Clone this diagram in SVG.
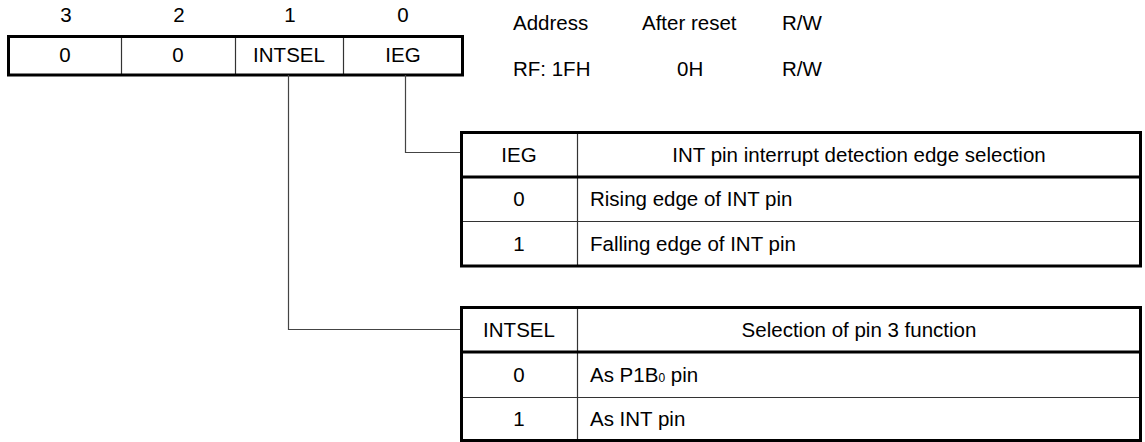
<svg xmlns="http://www.w3.org/2000/svg" width="1145" height="442" viewBox="0 0 1145 442">
<style>
text{font-family:"Liberation Sans",Arial,sans-serif;font-size:20.5px;fill:#000}
.c{text-anchor:middle}
.thick{fill:none;stroke:#000;stroke-width:3}
.thin{fill:none;stroke:#333;stroke-width:1.2}
.conn{fill:none;stroke:#444;stroke-width:1.2}
</style>
<rect width="1145" height="442" fill="#fff"/>
<g id="bitnumbers">
<text class="c" x="66" y="22">3</text>
<text class="c" x="179" y="22">2</text>
<text class="c" x="290" y="22">1</text>
<text class="c" x="403" y="22">0</text>
</g>
<g id="register">
<line class="thin" x1="121.5" y1="36" x2="121.5" y2="75"/>
<line class="thin" x1="235.5" y1="36" x2="235.5" y2="75"/>
<line class="thin" x1="343.5" y1="36" x2="343.5" y2="75"/>
<rect class="thick" x="8.5" y="36.5" width="454" height="38.5"/>
<text class="c" x="65" y="62">0</text>
<text class="c" x="178" y="62">0</text>
<text class="c" x="289" y="62">INTSEL</text>
<text class="c" x="403" y="62">IEG</text>
</g>
<g id="info">
<text x="513" y="30">Address</text>
<text x="642" y="30">After reset</text>
<text x="782" y="30">R/W</text>
<text x="513" y="76">RF: 1FH</text>
<text x="677" y="76">0H</text>
<text x="782" y="76">R/W</text>
</g>
<g id="connectors">
<polyline class="conn" points="405.5,75 405.5,152.5 461,152.5"/>
<polyline class="conn" points="288.5,75 288.5,329.5 461,329.5"/>
</g>
<g id="table-ieg">
<line class="thin" x1="577.5" y1="132" x2="577.5" y2="266"/>
<line class="thin" x1="461" y1="221.5" x2="1141" y2="221.5"/>
<line class="thick" x1="461" y1="177" x2="1141" y2="177"/>
<rect class="thick" x="461.5" y="132.5" width="679" height="133.5"/>
<text class="c" x="519" y="162">IEG</text>
<text class="c" x="859" y="162">INT pin interrupt detection edge selection</text>
<text class="c" x="519" y="206">0</text>
<text x="590" y="206">Rising edge of INT pin</text>
<text class="c" x="519" y="251">1</text>
<text x="590" y="251">Falling edge of INT pin</text>
</g>
<g id="table-intsel">
<line class="thin" x1="577.5" y1="307" x2="577.5" y2="441"/>
<line class="thin" x1="461" y1="397.5" x2="1141" y2="397.5"/>
<line class="thick" x1="461" y1="352" x2="1141" y2="352"/>
<rect class="thick" x="461.5" y="307.5" width="679" height="133"/>
<text class="c" x="519" y="337">INTSEL</text>
<text class="c" x="859" y="337">Selection of pin 3 function</text>
<text class="c" x="519" y="382">0</text>
<text x="590" y="382">As P1B<tspan font-size="12">0</tspan> pin</text>
<text class="c" x="519" y="426">1</text>
<text x="590" y="426">As INT pin</text>
</g>
</svg>
